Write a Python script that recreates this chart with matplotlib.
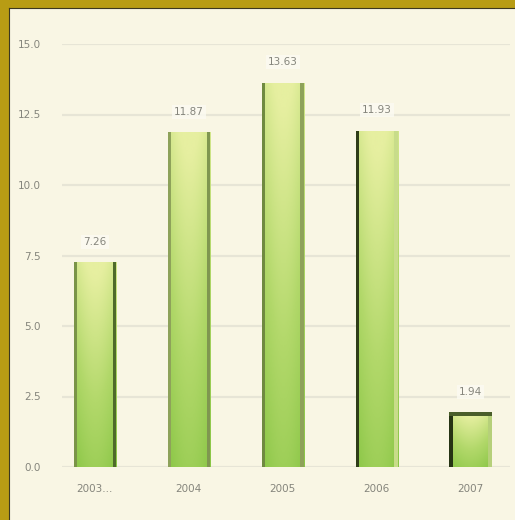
import numpy as np
import matplotlib
matplotlib.use('Agg')
import matplotlib.pyplot as plt
from matplotlib.colors import LinearSegmentedColormap
from matplotlib.patches import Rectangle

years = ['2003...', '2004', '2005', '2006', '2007']
values = [7.26, 11.87, 13.63, 11.93, 1.94]
value_labels = ['7.26', '11.87', '13.63', '11.93', '1.94']
yticks = [0.0, 2.5, 5.0, 7.5, 10.0, 12.5, 15.0]

# dark edge strength per bar (left, right, top)
edge_left = ['#7a9448', '#8ea25a', '#6f8a40', '#2f3d18', '#263414']
edge_right = ['#4e6a2a', '#7f9650', '#8ea25a', '#c8dc8a', '#b6d07a']
edge_top = [None, None, None, None, '#4a5e2a']

bg = '#f9f6e4'
fig = plt.figure(figsize=(5.15, 5.2), dpi=100, facecolor=bg)

# gold frame on top and left
fig.patches.append(Rectangle((0, 0), 8 / 515, 1, transform=fig.transFigure,
                             color='#b89c14', zorder=0))
fig.patches.append(Rectangle((0, 1 - 7 / 520), 1, 7 / 520, transform=fig.transFigure,
                             color='#b89c14', zorder=0))
fig.add_artist(plt.Line2D([8.5 / 515, 8.5 / 515], [0, 1 - 7.5 / 520],
                          transform=fig.transFigure, color='#3c3820', lw=0.8))
fig.add_artist(plt.Line2D([8.5 / 515, 1], [1 - 7.5 / 520, 1 - 7.5 / 520],
                          transform=fig.transFigure, color='#3c3820', lw=0.8))

ax = fig.add_axes([62 / 515, 53 / 520, 448 / 515, 423 / 520])
ax.set_facecolor(bg)

for y in yticks:
    ax.axhline(y, color='#e7e5d6', lw=1.6, zorder=1)

x = np.arange(len(years))
width = 0.45
bars = ax.bar(x, values, width=width, color='#a6cf62', zorder=2)

cmap = LinearSegmentedColormap.from_list('g', ['#8ac646', '#b2d86a', '#e6efa0'])
for i, b in enumerate(bars):
    x0, y0 = b.get_x(), b.get_y()
    w, h = b.get_width(), b.get_height()
    vert = np.linspace(0, 1, 100)[:, None]
    horiz = 0.25 * np.sin(np.linspace(0, np.pi, 60))[None, :]
    grad = np.clip(vert * 0.8 + horiz, 0, 1)
    im = ax.imshow(grad, extent=[x0, x0 + w, y0, y0 + h], origin='lower',
                   cmap=cmap, vmin=0, vmax=1, aspect='auto', zorder=3)
    im.set_clip_path(b)
    ax.bar(x0 + w * 0.04, h, width=w * 0.08, color=edge_left[i], zorder=4)
    ax.bar(x0 + w * 0.96, h, width=w * 0.08, color=edge_right[i], zorder=4)
    if edge_top[i]:
        ax.bar(x[i], 0.12, bottom=h - 0.12, width=w, color=edge_top[i], zorder=4)
    ax.text(x[i], values[i] + 0.55, value_labels[i], ha='center', va='bottom',
            fontsize=7.5, color='#85857c', zorder=5,
            bbox=dict(facecolor='#fcfbf2', edgecolor='none', pad=1.5, alpha=0.8))

ax.set_xlim(-0.35, 4.42)
ax.set_ylim(0, 15)
ax.set_yticks(yticks)
ax.set_yticklabels(['%.1f' % t for t in yticks])
ax.set_xticks(x)
ax.set_xticklabels(years)
ax.tick_params(length=0, labelsize=7.5, labelcolor='#85857c')
ax.tick_params(axis='y', pad=15)
ax.tick_params(axis='x', pad=12)
for s in ax.spines.values():
    s.set_visible(False)

fig.savefig('out.png', dpi=100, facecolor=bg)
